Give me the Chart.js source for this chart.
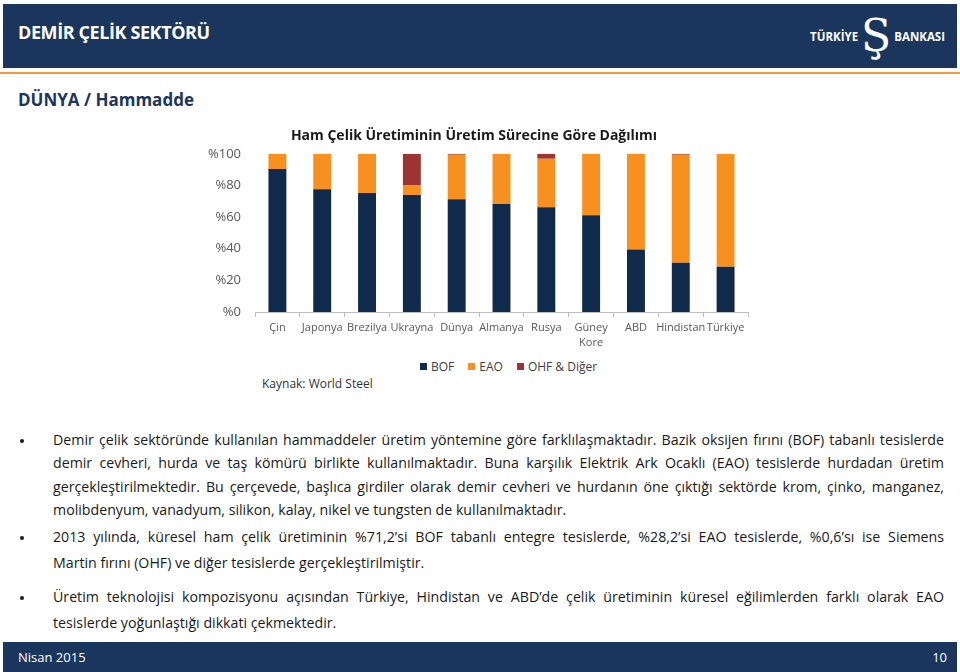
<!DOCTYPE html>
<html lang="tr">
<head>
<meta charset="utf-8">
<script src="https://cdn.jsdelivr.net/npm/chart.js@4.4.0/dist/chart.umd.min.js"></script>
<style>
    body { margin: 0; width: 960px; height: 672px; position: relative; background: #fff; font-family: "Open Sans", sans-serif; overflow: hidden; }
    .abs { position: absolute; }
    #header { left: 3px; top: 4px; width: 954px; height: 64px; background: #1b365d; }
    #header .title { left: 15px; top: 16px; color: #fff; font-weight: 700; font-size: 18px; letter-spacing: -0.4px; }
    #logo { right: 12px; top: 4px; height: 56px; color: #fff; font-weight: 700; font-size: 11.5px; display: flex; align-items: center; }
    #logo .mark { font-size: 44px; font-weight: 400; line-height: 1; margin: 0 3px; font-family: "DejaVu Serif", serif; }
    #rule { left: 0; top: 72px; width: 960px; height: 2px; background: #f39a3c; }
    #section { left: 18px; top: 88px; color: #1b365d; font-weight: 700; font-size: 17px; }
    #chartBox { left: 200px; top: 126px; width: 560px; height: 231px; }
    #legend { left: 420px; top: 358px; display: flex; gap: 14px; font-size: 12px; color: #404040; }
    #legend span.item { display: flex; align-items: center; }
    #legend i { display: inline-block; width: 7px; height: 7px; margin-right: 4px; }
    #source { left: 262px; top: 375px; font-size: 12px; color: #333; }
    .para { left: 53px; width: 891px; font-size: 14.2px; color: #1a1a1a; }
    .para div { text-align: justify; text-align-last: justify; white-space: nowrap; overflow: visible; }
    .para div.last { text-align-last: left; }
    .dot { left: 20px; width: 4px; height: 4px; border-radius: 50%; background: #1a1a1a; }
    #footer { left: 3px; top: 642px; width: 954px; height: 30px; background: #1b365d; color: #fff; font-size: 13px; }
</style>
</head>
<body>
<div id="header" class="abs">
    <div class="title abs">DEMİR ÇELİK SEKTÖRÜ</div>
    <div id="logo" class="abs">TÜRKİYE<span class="mark">Ş</span>BANKASI</div>
</div>
<div id="rule" class="abs"></div>
<div id="section" class="abs">DÜNYA / Hammadde</div>

<div id="chartBox" class="abs"><canvas id="chart"></canvas></div>
<div id="legend" class="abs"></div>
<div id="source" class="abs">Kaynak: World Steel</div>

<div class="dot abs" style="top:439px"></div>
<div class="para abs" style="top:428px; line-height:23.3px">
    <div>Demir çelik sektöründe kullanılan hammaddeler üretim yöntemine göre farklılaşmaktadır. Bazik oksijen fırını (BOF) tabanlı tesislerde</div>
    <div>demir cevheri, hurda ve taş kömürü birlikte kullanılmaktadır. Buna karşılık Elektrik Ark Ocaklı (EAO) tesislerde hurdadan üretim</div>
    <div>gerçekleştirilmektedir. Bu çerçevede, başlıca girdiler olarak demir cevheri ve hurdanın öne çıktığı sektörde krom, çinko, manganez,</div>
    <div class="last">molibdenyum, vanadyum, silikon, kalay, nikel ve tungsten de kullanılmaktadır.</div>
</div>

<div class="dot abs" style="top:536px"></div>
<div class="para abs" style="top:524px; line-height:26px">
    <div>2013 yılında, küresel ham çelik üretiminin %71,2’si BOF tabanlı entegre tesislerde, %28,2’si EAO tesislerde, %0,6’sı ise Siemens</div>
    <div class="last">Martin fırını (OHF) ve diğer tesislerde gerçekleştirilmiştir.</div>
</div>

<div class="dot abs" style="top:596px"></div>
<div class="para abs" style="top:584px; line-height:26px">
    <div>Üretim teknolojisi kompozisyonu açısından Türkiye, Hindistan ve ABD’de çelik üretiminin küresel eğilimlerden farklı olarak EAO</div>
    <div class="last">tesislerde yoğunlaştığı dikkati çekmektedir.</div>
</div>

<div id="footer" class="abs">
    <span class="abs" style="left:15px; top:6px">Nisan 2015</span>
    <span class="abs" style="right:10px; top:6px">10</span>
</div>

<script>
const categories = ['Çin', 'Japonya', 'Brezilya', 'Ukrayna', 'Dünya', 'Almanya', 'Rusya', ['Güney', 'Kore'], 'ABD', 'Hindistan', 'Türkiye'];
const bofValues = [90.4, 77.6, 75.2, 73.9, 71.2, 68.2, 66.2, 61.1, 39.5, 31.2, 28.6];
const eaoValues = [9.6, 22.4, 24.8, 6.1, 28.2, 31.8, 30.6, 38.9, 60.5, 68.2, 71.4];
const ohfValues = [0, 0, 0, 20, 0.6, 0, 3.2, 0, 0, 0.6, 0];
const yTicks = [0, 20, 40, 60, 80, 100];

const seriesColors = {
    bof: '#102a4c',
    eao: '#f7901e',
    ohf: '#9c3434'
};

const chartTitle = 'Ham Çelik Üretiminin Üretim Sürecine Göre Dağılımı';

const ctx = document.getElementById('chart');

const chart = new Chart(ctx, {
    type: 'bar',
    data: {
        labels: categories,
        datasets: [
            { label: 'BOF', data: bofValues, backgroundColor: seriesColors.bof },
            { label: 'EAO', data: eaoValues, backgroundColor: seriesColors.eao },
            { label: 'OHF & Diğer', data: ohfValues, backgroundColor: seriesColors.ohf }
        ]
    },
    options: {
        responsive: true,
        maintainAspectRatio: false,
        animation: false,
        layout: { padding: { left: 0, right: 12, top: 0, bottom: 0 } },
        datasets: {
            bar: { categoryPercentage: 1, barPercentage: 0.4, borderWidth: 0 }
        },
        plugins: {
            legend: { display: false },
            tooltip: { enabled: false },
            title: {
                display: true,
                text: chartTitle,
                color: '#1a1a1a',
                font: { family: 'Open Sans', size: 14, weight: 'bold' },
                padding: { top: 2, bottom: 9 }
            }
        },
        scales: {
            x: {
                stacked: true,
                grid: {
                    display: true,
                    drawOnChartArea: false,
                    drawTicks: true,
                    tickLength: 5,
                    color: '#bfbfbf'
                },
                border: { display: true, color: '#bfbfbf' },
                ticks: {
                    color: '#595959',
                    font: { family: 'Open Sans', size: 11, lineHeight: 1.4 },
                    maxRotation: 0,
                    autoSkip: false,
                    padding: 3
                },
                afterFit: (scale) => { scale.height = 45; }
            },
            y: {
                stacked: true,
                min: 0,
                max: 100,
                afterBuildTicks: (scale) => { scale.ticks = yTicks.map(v => ({ value: v })); },
                grid: { display: false },
                border: { display: false },
                ticks: {
                    color: '#595959',
                    font: { family: 'Open Sans', size: 13 },
                    padding: 6,
                    callback: (value) => '%' + value
                },
                afterFit: (scale) => { scale.width = 55; }
            }
        }
    }
});

// legend below the chart, built from the datasets
const legendBox = document.getElementById('legend');
chart.data.datasets.forEach(ds => {
    const item = document.createElement('span');
    item.className = 'item';
    item.innerHTML = '<i style="background:' + ds.backgroundColor + '"></i>' + ds.label;
    legendBox.appendChild(item);
});

// squeeze any bullet line that does not fit the text column
document.querySelectorAll('.para div').forEach(line => {
    let spacing = 0;
    while (line.scrollWidth > line.clientWidth && spacing > -1) {
        spacing -= 0.05;
        line.style.letterSpacing = spacing + 'px';
    }
});
</script>
</body>
</html>
